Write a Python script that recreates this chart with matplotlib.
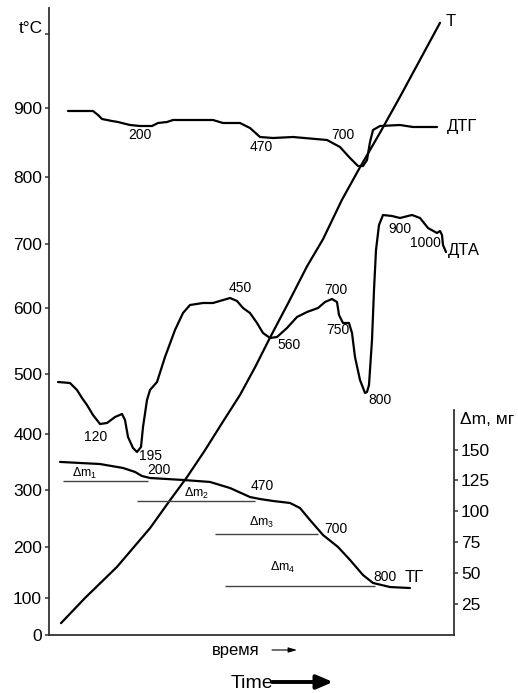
import numpy as np
import matplotlib
matplotlib.use('Agg')
import matplotlib.pyplot as plt

plt.rcParams['font.family'] = ['Liberation Sans', 'DejaVu Sans']
plt.rcParams['mathtext.fontset'] = 'custom'
plt.rcParams['mathtext.rm'] = 'Liberation Sans'
plt.rcParams['mathtext.it'] = 'Liberation Sans:italic'
plt.rcParams['lines.solid_joinstyle'] = 'round'
plt.rcParams['lines.solid_capstyle'] = 'round'

# ---------------- data ----------------
# hand-drawn (non-uniform) temperature axis: tick values and their drawn heights
t_tick_values = [0, 100, 200, 300, 400, 500, 600, 700, 800, 900, 1000]
t_tick_labels = ['0', '100', '200', '300', '400', '500', '600', '700', '800', '900', '']
t_tick_heights = [0, 37, 88, 145, 201, 261, 327, 391, 458, 527, 601]
t_axis_title = 't°C'

# heating curve T (time in arbitrary units, temperature in °C)
T_time = [12, 36, 68, 101, 121, 138, 156, 173, 191, 206, 221, 240, 258, 274, 293, 311, 331, 351, 371, 391]
T_temp = [32, 100, 161, 233, 282, 323, 371, 418, 465, 510, 555, 610, 665, 707, 766, 814, 864, 915, 965, 1015]

# DTG curve (relative signal)
dtg_time = [19, 44, 49, 53, 63, 69, 81, 91, 103, 109, 118, 124, 141, 164, 174, 191,
            201, 211, 224, 244, 278, 291, 301, 309, 314, 318, 321, 324, 331, 351, 364, 388]
dtg_signal = [524, 524, 520, 516, 514, 513, 510, 509, 509, 512, 513, 515, 515, 515, 512, 512,
              507, 498, 497, 498, 495, 488, 477, 469, 469, 475, 493, 505, 509, 510, 508, 508]

# DTA curve (relative signal)
dta_time = [9, 21, 28, 33, 38, 44, 51, 58, 66, 73, 76, 79, 84, 88, 92, 94, 98, 101, 108,
            116, 126, 134, 141, 154, 164, 181, 188, 194, 201, 208, 214, 221, 228, 238, 248,
            258, 269, 276, 283, 288, 290, 294, 300, 303, 306, 311, 316, 318, 320, 323, 325,
            327, 330, 334, 343, 351, 363, 371, 379, 388, 391, 393, 394, 397]
dta_signal = [253, 252, 245, 237, 230, 220, 211, 212, 218, 221, 215, 198, 187, 183, 188, 208,
              235, 245, 253, 278, 305, 322, 330, 332, 332, 337, 334, 327, 322, 312, 302, 297,
              298, 307, 318, 323, 327, 333, 336, 333, 320, 312, 312, 302, 278, 255, 242, 243,
              250, 295, 345, 385, 410, 420, 419, 417, 420, 417, 407, 402, 404, 400, 390, 383]

# TG curve (mass loss, mg)
tg_time = [11, 51, 74, 86, 93, 101, 134, 161, 181, 201, 211, 224, 241, 251, 261, 274,
           289, 301, 314, 324, 341, 361]
tg_mass = [140, 138.3, 135.1, 131.9, 128.6, 127, 125.4, 123.8, 118.9, 111.6, 110, 108.4,
           106.8, 102.7, 93, 80.9, 71.2, 60.7, 48.5, 42.1, 38.8, 38]

# mass-loss steps
dm_names = ['1', '2', '3', '4']
dm_start = [14, 88, 166, 176]
dm_end = [99, 206, 269, 326]
dm_level = [124.6, 108.4, 81.7, 39.6]

mass_ticks = [25, 50, 75, 100, 125, 150]

# ---------------- figure ----------------
W, H = 518, 693
fig = plt.figure(figsize=(W / 100, H / 100), dpi=100)

def fp(x, y):
    return (x / W, 1 - y / H)

L, B, AW, AH = 49 / W, 58 / H, 405 / W, 627 / H
spine_c = '#333333'

ext_vals = [-100] + t_tick_values + [1100]
ext_h = [-37] + t_tick_heights + [675]

def fwd(v):
    return np.interp(v, ext_vals, ext_h)

def inv(h):
    return np.interp(h, ext_h, ext_vals)

ax = fig.add_axes([L, B, AW, AH])
ax.set_yscale('function', functions=(fwd, inv))
ax.set_ylim(0, 1035)
ax.set_xlim(0, 405)
for s in ['top', 'right']:
    ax.spines[s].set_visible(False)
for s in ['left', 'bottom']:
    ax.spines[s].set_color(spine_c)
    ax.spines[s].set_linewidth(1.3)
ax.set_xticks([])
ax.set_yticks(t_tick_values)
ax.set_yticklabels(t_tick_labels)
ax.yaxis.set_minor_locator(matplotlib.ticker.NullLocator())
ax.tick_params(axis='y', length=3, width=1.1, pad=2, labelsize=12.5, color=spine_c)
ax.annotate(t_axis_title, xy=(0, t_tick_values[-1]), xycoords=('axes fraction', 'data'),
            xytext=(-6, 5), textcoords='offset pixels', ha='right', va='center', fontsize=12.5)
ax.plot(T_time, T_temp, color='black', lw=1.6)

ax_sig = fig.add_axes([L, B, AW, AH])
ax_sig.set_xlim(0, 405)
ax_sig.set_ylim(0, 627)
ax_sig.axis('off')
ax_sig.plot(dtg_time, dtg_signal, color='black', lw=1.6)
ax_sig.plot(dta_time, dta_signal, color='black', lw=1.6)

ax_m = fig.add_axes([L, B, AW, 225 / H])
ax_m.patch.set_visible(False)
ax_m.set_xlim(0, 405)
ax_m.set_ylim(0, 182)
for s in ['top', 'left', 'bottom']:
    ax_m.spines[s].set_visible(False)
ax_m.spines['right'].set_color(spine_c)
ax_m.spines['right'].set_linewidth(1.3)
ax_m.set_xticks([])
ax_m.yaxis.tick_right()
ax_m.set_yticks(mass_ticks)
ax_m.tick_params(axis='y', length=3, width=1.1, pad=2, labelsize=12.5, color=spine_c)
ax_m.plot(tg_time, tg_mass, color='black', lw=1.6)
for n, a, b, lv in zip(dm_names, dm_start, dm_end, dm_level):
    ax_m.plot([a, b], [lv, lv], color='#444444', lw=1.0, solid_capstyle='butt')

fs = 10
# DTG labels
ax_sig.text(91, 500, '200', ha='center', va='center', fontsize=fs)
ax_sig.text(212, 488, '470', ha='center', va='center', fontsize=fs)
ax_sig.text(294, 500, '700', ha='center', va='center', fontsize=fs)
ax_sig.text(398, 508, 'ДТГ', ha='left', va='center', fontsize=12)
ax_sig.text(397, 613, 'T', ha='left', va='center', fontsize=12)
# DTA labels
for x, y, t in [(47, 198, '120'), (102, 179, '195'), (191, 347, '450'), (240, 290, '560'),
                (287, 345, '700'), (289, 305, '750'), (331, 235, '800'), (351, 406, '900'),
                (376, 392, '1000')]:
    ax_sig.text(x, y, t, ha='center', va='center', fontsize=fs)
ax_sig.text(399, 385, 'ДТА', ha='left', va='center', fontsize=12)
# TG labels
for x, y, t in [(110, 165, '200'), (213, 149, '470'), (287, 106, '700'), (336, 58, '800')]:
    ax_sig.text(x, y, t, ha='center', va='center', fontsize=fs)
ax_sig.text(356, 57, 'ТГ', ha='left', va='center', fontsize=12)
for n, (x, y) in zip(dm_names, [(36, 162), (148, 142), (213, 113), (234, 68)]):
    ax_sig.text(x, y, 'Δm$_{%s}$' % n, ha='center', va='center', fontsize=9)

fig.text(*fp(460, 420), 'Δm, мг', ha='left', va='center', fontsize=12.5)
fig.text(*fp(236, 650), 'время', ha='center', va='center', fontsize=12)
fig.text(*fp(252, 683), 'Time', ha='center', va='center', fontsize=14)

ax.annotate('', xy=fp(297, 650), xytext=fp(272, 650), xycoords='figure fraction',
            textcoords='figure fraction',
            arrowprops=dict(arrowstyle='-|>,head_length=0.5,head_width=0.15', lw=0.8,
                            color='black', shrinkA=0, shrinkB=0, mutation_scale=10))
ax.annotate('', xy=fp(333, 682), xytext=fp(272, 682), xycoords='figure fraction',
            textcoords='figure fraction',
            arrowprops=dict(arrowstyle='-|>,head_length=0.7,head_width=0.3', lw=2.8,
                            color='black', shrinkA=0, shrinkB=0, mutation_scale=14))

fig.savefig('out.png', dpi=100)
